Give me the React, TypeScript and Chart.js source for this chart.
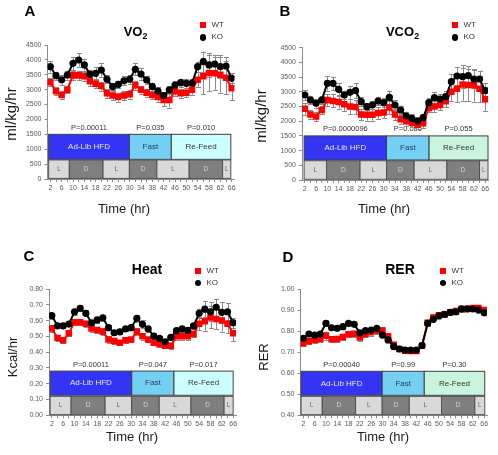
import React, { useEffect, useRef } from "react";
import { Chart, registerables } from "chart.js";

Chart.register(...registerables);

const FONT = "'Liberation Sans', Arial, sans-serif";

// Sampling times (hr)
const HOURS = [2, 4, 6, 8, 10, 12, 14, 16, 18, 20, 22, 24, 26, 28, 30, 32, 34, 36, 38, 40, 42, 44, 46, 48, 50, 52, 54, 56, 58, 60, 62, 64, 66];
const HOUR_LABELS = [2, 6, 10, 14, 18, 22, 26, 30, 34, 38, 42, 46, 50, 54, 58, 62, 66];

const PHASE_LABELS = ["Ad-Lib HFD", "Fast", "Re-Feed"];
const CYCLE_LABELS = ["L", "D", "L", "D", "L", "D", "L"];
const SERIES_NAMES = ["WT", "KO"];

// VO2 (ml/kg/hr)
const VO2_WT = [3250, 2950, 2820, 3000, 3480, 3480, 3450, 3280, 3200, 3120, 2880, 2800, 2750, 2800, 2850, 3150, 3000, 2900, 2820, 2750, 2650, 2650, 2950, 2880, 2900, 3000, 3330, 3450, 3560, 3550, 3500, 3400, 3050];
const VO2_KO = [3771, 3470, 3330, 3490, 3885, 3996, 3830, 3515, 3550, 3660, 3350, 3100, 3180, 3300, 3350, 3683, 3526, 3325, 3100, 2955, 2800, 2990, 3157, 3234, 3213, 3220, 3771, 3939, 3830, 3862, 3771, 3794, 3381];
const VO2_WT_ERR = [130, 130, 120, 120, 150, 150, 150, 150, 150, 150, 150, 150, 150, 150, 150, 150, 130, 130, 150, 150, 200, 250, 150, 150, 150, 170, 250, 600, 600, 550, 600, 550, 400];
const VO2_KO_ERR = [200, 135, 170, 150, 220, 220, 190, 150, 220, 220, 130, 120, 120, 150, 150, 200, 190, 150, 140, 120, 110, 120, 130, 140, 150, 150, 170, 335, 390, 300, 390, 310, 170];
const VO2_P = ["P=0.00011", "P=0.035", "P=0.010"];
const VO2_PHASE_EDGES = [1.4, 29.9, 44.7, 65.7];
const VO2_CYCLE_EDGES = [1.4, 8.7, 20.6, 29.9, 39.6, 51, 62.8, 65.7];
const VO2_PHASE_BAND = [660, 1500];
const VO2_CYCLE_BAND = [20, 640];

// VCO2 (ml/kg/hr)
const VCO2_WT = [2420, 2230, 2160, 2380, 2720, 2690, 2650, 2580, 2500, 2480, 2230, 2220, 2220, 2280, 2300, 2470, 2230, 2070, 2000, 1950, 1880, 1930, 2450, 2500, 2550, 2680, 3000, 3100, 3250, 3230, 3220, 3100, 2750];
const VCO2_KO = [2891, 2721, 2608, 2721, 3289, 3289, 3084, 2891, 2982, 3039, 2664, 2493, 2551, 2687, 2630, 2812, 2551, 2381, 2177, 2098, 2007, 2120, 2630, 2800, 2755, 2834, 3344, 3537, 3514, 3548, 3435, 3435, 3039];
const VCO2_WT_ERR = [200, 150, 150, 150, 200, 220, 220, 250, 250, 250, 200, 200, 200, 200, 200, 220, 180, 150, 150, 150, 150, 150, 150, 180, 180, 200, 300, 450, 550, 550, 550, 450, 400];
const VCO2_KO_ERR = [170, 150, 150, 150, 250, 226, 200, 150, 215, 250, 150, 120, 120, 150, 150, 226, 180, 150, 150, 130, 120, 120, 150, 180, 180, 180, 250, 300, 400, 330, 300, 280, 250];
const VCO2_P = ["P=0.0000096", "P=0.086", "P=0.055"];
const VCO2_PHASE_EDGES = [1.75, 31, 46.1, 67];
const VCO2_CYCLE_EDGES = [1.75, 9.7, 21.6, 31, 40.8, 52.4, 64, 67];
const VCO2_PHASE_BAND = [680, 1500];
const VCO2_CYCLE_BAND = [25, 655];

// Heat (Kcal/hr)
const HEAT_WT = [0.55, 0.49, 0.475, 0.52, 0.59, 0.59, 0.58, 0.55, 0.54, 0.53, 0.48, 0.47, 0.46, 0.475, 0.48, 0.53, 0.50, 0.48, 0.46, 0.45, 0.44, 0.44, 0.50, 0.50, 0.50, 0.515, 0.58, 0.595, 0.62, 0.61, 0.60, 0.58, 0.52];
const HEAT_KO = [0.631, 0.567, 0.567, 0.578, 0.656, 0.678, 0.646, 0.586, 0.604, 0.618, 0.555, 0.523, 0.529, 0.547, 0.555, 0.614, 0.576, 0.547, 0.502, 0.488, 0.466, 0.494, 0.536, 0.547, 0.538, 0.566, 0.646, 0.673, 0.656, 0.684, 0.652, 0.656, 0.586];
const HEAT_WT_ERR = [0.02, 0.02, 0.015, 0.015, 0.02, 0.02, 0.02, 0.02, 0.02, 0.02, 0.02, 0.02, 0.015, 0.015, 0.015, 0.02, 0.02, 0.015, 0.015, 0.015, 0.015, 0.02, 0.02, 0.02, 0.02, 0.02, 0.04, 0.06, 0.07, 0.065, 0.07, 0.06, 0.05];
const HEAT_KO_ERR = [0.02, 0.015, 0.015, 0.015, 0.02, 0.02, 0.02, 0.015, 0.02, 0.02, 0.015, 0.015, 0.015, 0.015, 0.015, 0.02, 0.025, 0.02, 0.02, 0.015, 0.015, 0.015, 0.02, 0.02, 0.02, 0.02, 0.03, 0.05, 0.06, 0.055, 0.065, 0.055, 0.03];
const HEAT_P = ["P=0.00011", "P=0.047", "P=0.017"];
const HEAT_PHASE_EDGES = [1.4, 30.2, 45.1, 66];
const HEAT_CYCLE_EDGES = [1.4, 8.8, 20.8, 30.2, 39.9, 51.1, 62.8, 66];
const HEAT_PHASE_BAND = [0.127, 0.28];
const HEAT_CYCLE_BAND = [0.004, 0.12];

// RER
const RER_WT = [0.742, 0.752, 0.758, 0.763, 0.778, 0.761, 0.763, 0.772, 0.785, 0.787, 0.77, 0.785, 0.794, 0.802, 0.803, 0.775, 0.735, 0.715, 0.707, 0.705, 0.705, 0.73, 0.84, 0.865, 0.875, 0.88, 0.89, 0.895, 0.905, 0.905, 0.91, 0.91, 0.9];
const RER_KO = [0.766, 0.786, 0.781, 0.786, 0.837, 0.816, 0.813, 0.821, 0.837, 0.832, 0.792, 0.802, 0.805, 0.813, 0.781, 0.758, 0.726, 0.715, 0.71, 0.71, 0.71, 0.731, 0.837, 0.856, 0.872, 0.88, 0.889, 0.892, 0.906, 0.906, 0.905, 0.9, 0.887];
const RER_WT_ERR = [0.015, 0.015, 0.015, 0.015, 0.02, 0.015, 0.015, 0.015, 0.015, 0.015, 0.015, 0.015, 0.015, 0.015, 0.015, 0.015, 0.015, 0.01, 0.01, 0.01, 0.01, 0.01, 0.015, 0.015, 0.015, 0.015, 0.015, 0.015, 0.015, 0.01, 0.01, 0.01, 0.01];
const RER_KO_ERR = [0.01, 0.01, 0.01, 0.01, 0.015, 0.01, 0.01, 0.01, 0.01, 0.01, 0.01, 0.01, 0.01, 0.01, 0.01, 0.01, 0.01, 0.01, 0.005, 0.005, 0.005, 0.01, 0.01, 0.01, 0.01, 0.01, 0.01, 0.01, 0.01, 0.01, 0.01, 0.01, 0.01];
const RER_P = ["P=0.00040", "P=0.99", "P=0.30"];
const RER_PHASE_EDGES = [1.2, 29.9, 44.8, 66.2];
const RER_CYCLE_EDGES = [1.2, 8.7, 20.5, 29.9, 39.5, 50.9, 62.7, 66.2];
const RER_PHASE_BAND = [0.495, 0.609];
const RER_CYCLE_BAND = [0.403, 0.49];

const COLORS = {
  wt: "#ff0000",
  ko: "#000000",
  err: "#8a8a8a",
  axis: "#8c8c8c",
  tick: "#595959",
  adLib: "#3434f4",
  fast: "#74cff4",
  refeedCyan: "#ccffff",
  refeedMint: "#c9f5df",
  light: "#d9d9d9",
  dark: "#7f7f7f",
  boxEdge: "#3f3f3f",
};

type Spec = {
  wt: number[];
  ko: number[];
  wtErr: number[];
  koErr: number[];
  yMin: number;
  yMax: number;
  yStep: number;
  decimals: number;
  pValues: string[];
  phaseEdges: number[];
  cycleEdges: number[];
  phaseBand: number[];
  cycleBand: number[];
  refeedColor: string;
  box: { x: number; y: number; w: number; h: number; yAxisW: number; top: number; right: number; bottom: number };
};

function protocolPlugin(spec: Spec) {
  return {
    id: "protocol",
    beforeDatasetsDraw(chart: any) {
      const { ctx } = chart;
      const xs = chart.scales.x;
      const ys = chart.scales.y;
      ctx.save();

      // feeding protocol boxes
      const pTop = ys.getPixelForValue(spec.phaseBand[1]);
      const pBot = ys.getPixelForValue(spec.phaseBand[0]);
      const phaseFill = [COLORS.adLib, COLORS.fast, spec.refeedColor];
      const phaseText = ["#e8e8ff", "#2a3a55", "#333333"];
      for (let i = 0; i < PHASE_LABELS.length; i++) {
        const x0 = xs.getPixelForValue(spec.phaseEdges[i]);
        const x1 = xs.getPixelForValue(spec.phaseEdges[i + 1]);
        ctx.fillStyle = phaseFill[i];
        ctx.fillRect(x0, pTop, x1 - x0, pBot - pTop);
        ctx.strokeStyle = COLORS.boxEdge;
        ctx.lineWidth = 1;
        ctx.strokeRect(x0, pTop, x1 - x0, pBot - pTop);
        ctx.textAlign = "center";
        ctx.textBaseline = "middle";
        ctx.fillStyle = phaseText[i];
        ctx.font = `8px ${FONT}`;
        ctx.fillText(PHASE_LABELS[i], (x0 + x1) / 2, (pTop + pBot) / 2);
        ctx.fillStyle = "#333333";
        ctx.font = `7.5px ${FONT}`;
        ctx.fillText(spec.pValues[i], (x0 + x1) / 2, pTop - 6.5);
      }

      // light / dark cycle boxes
      const cTop = ys.getPixelForValue(spec.cycleBand[1]);
      const cBot = ys.getPixelForValue(spec.cycleBand[0]);
      for (let i = 0; i < CYCLE_LABELS.length; i++) {
        const x0 = xs.getPixelForValue(spec.cycleEdges[i]);
        const x1 = xs.getPixelForValue(spec.cycleEdges[i + 1]);
        const isLight = CYCLE_LABELS[i] === "L";
        ctx.fillStyle = isLight ? COLORS.light : COLORS.dark;
        ctx.fillRect(x0, cTop, x1 - x0, cBot - cTop);
        ctx.strokeStyle = "#505050";
        ctx.lineWidth = 1;
        ctx.strokeRect(x0, cTop, x1 - x0, cBot - cTop);
        ctx.fillStyle = isLight ? "#666666" : "#d4d4d4";
        ctx.font = `6.5px ${FONT}`;
        ctx.textAlign = "center";
        ctx.textBaseline = "middle";
        ctx.fillText(CYCLE_LABELS[i], (x0 + x1) / 2, (cTop + cBot) / 2);
      }

      // error bars
      const sets = [
        { vals: spec.wt, errs: spec.wtErr },
        { vals: spec.ko, errs: spec.koErr },
      ];
      ctx.strokeStyle = COLORS.err;
      ctx.lineWidth = 1;
      for (const s of sets) {
        for (let j = 0; j < HOURS.length; j++) {
          const px = Math.round(xs.getPixelForValue(HOURS[j])) + 0.5;
          const hi = ys.getPixelForValue(s.vals[j] + s.errs[j]);
          const lo = ys.getPixelForValue(s.vals[j] - s.errs[j]);
          ctx.beginPath();
          ctx.moveTo(px, hi);
          ctx.lineTo(px, lo);
          ctx.moveTo(px - 2.5, Math.round(hi) + 0.5);
          ctx.lineTo(px + 2.5, Math.round(hi) + 0.5);
          ctx.moveTo(px - 2.5, Math.round(lo) + 0.5);
          ctx.lineTo(px + 2.5, Math.round(lo) + 0.5);
          ctx.stroke();
        }
      }
      ctx.restore();
    },
  };
}

function Panel({ spec }: { spec: Spec }) {
  const ref = useRef<HTMLCanvasElement>(null);
  useEffect(() => {
    const b = spec.box;
    const chart = new Chart(ref.current as HTMLCanvasElement, {
      type: "line",
      data: {
        datasets: [
          {
            label: SERIES_NAMES[0],
            data: HOURS.map((h, i) => ({ x: h, y: spec.wt[i] })),
            borderColor: COLORS.wt,
            backgroundColor: COLORS.wt,
            borderWidth: 2,
            pointStyle: "rect",
            pointRadius: 4.6,
            pointBorderWidth: 0,
            tension: 0,
            order: 2,
          },
          {
            label: SERIES_NAMES[1],
            data: HOURS.map((h, i) => ({ x: h, y: spec.ko[i] })),
            borderColor: COLORS.ko,
            backgroundColor: COLORS.ko,
            borderWidth: 2,
            pointStyle: "circle",
            pointRadius: 3.6,
            pointBorderWidth: 0,
            tension: 0,
            order: 1,
          },
        ],
      },
      options: {
        animation: false,
        responsive: false,
        devicePixelRatio: 1,
        layout: { padding: { left: 0, top: b.top, right: b.right, bottom: b.bottom } },
        plugins: { legend: { display: false }, tooltip: { enabled: false }, title: { display: false } },
        scales: {
          x: {
            type: "linear",
            min: 1,
            max: 67,
            afterBuildTicks: (s: any) => {
              s.ticks = HOURS.map((v) => ({ value: v }));
            },
            afterFit: (s: any) => {
              s.height = 20;
            },
            ticks: {
              autoSkip: false,
              maxRotation: 0,
              minRotation: 0,
              padding: 2,
              color: COLORS.tick,
              font: { size: 7, family: FONT },
              callback: (v: any) => (HOUR_LABELS.includes(Number(v)) ? String(v) : ""),
            },
            grid: { drawOnChartArea: false, tickLength: 3, color: COLORS.axis },
            border: { color: COLORS.axis },
          },
          y: {
            type: "linear",
            min: spec.yMin,
            max: spec.yMax,
            afterFit: (s: any) => {
              s.width = b.yAxisW;
            },
            ticks: {
              stepSize: spec.yStep,
              autoSkip: false,
              padding: 3,
              color: COLORS.tick,
              font: { size: 7, family: FONT },
              callback: (v: any) => Number(v).toFixed(spec.decimals),
            },
            grid: { drawOnChartArea: false, tickLength: 3, color: COLORS.axis },
            border: { color: COLORS.axis },
          },
        },
      },
      plugins: [protocolPlugin(spec)],
    } as any);
    return () => chart.destroy();
  }, [spec]);
  const b = spec.box;
  return (
    <canvas
      ref={ref}
      width={b.w}
      height={b.h}
      style={{ position: "absolute", left: b.x, top: b.y, width: b.w, height: b.h }}
    />
  );
}

function Txt(props: {
  x: number;
  y: number;
  size: number;
  bold?: boolean;
  rotate?: boolean;
  left?: boolean;
  color?: string;
  children: React.ReactNode;
}) {
  const tx = props.left ? "0" : "-50%";
  return (
    <div
      style={{
        position: "absolute",
        left: props.x,
        top: props.y,
        transform: `translate(${tx},-50%)${props.rotate ? " rotate(-90deg)" : ""}`,
        fontFamily: FONT,
        fontSize: props.size,
        fontWeight: props.bold ? 700 : 400,
        lineHeight: 1,
        whiteSpace: "nowrap",
        color: props.color || "#1a1a1a",
      }}
    >
      {props.children}
    </div>
  );
}

function Legend({ x, y }: { x: number; y: number }) {
  return (
    <>
      <div style={{ position: "absolute", left: x - 3, top: y - 3, width: 6, height: 6, background: COLORS.wt }} />
      <Txt x={x + 9} y={y} size={8} left color="#333">{SERIES_NAMES[0]}</Txt>
      <div style={{ position: "absolute", left: x - 3, top: y + 12 - 3, width: 6.5, height: 6.5, borderRadius: "50%", background: COLORS.ko }} />
      <Txt x={x + 9} y={y + 12} size={8} left color="#333">{SERIES_NAMES[1]}</Txt>
    </>
  );
}

const Sub = ({ children }: { children: React.ReactNode }) => (
  <span style={{ fontSize: "0.68em", position: "relative", top: "0.3em" }}>{children}</span>
);

const SPEC_VO2: Spec = {
  wt: VO2_WT, ko: VO2_KO, wtErr: VO2_WT_ERR, koErr: VO2_KO_ERR,
  yMin: 0, yMax: 4500, yStep: 500, decimals: 0,
  pValues: VO2_P, phaseEdges: VO2_PHASE_EDGES, cycleEdges: VO2_CYCLE_EDGES,
  phaseBand: VO2_PHASE_BAND, cycleBand: VO2_CYCLE_BAND, refeedColor: COLORS.refeedCyan,
  box: { x: 0, y: 0, w: 249, h: 228, yAxisW: 47.5, top: 45, right: 14.5, bottom: 29 },
};
const SPEC_VCO2: Spec = {
  wt: VCO2_WT, ko: VCO2_KO, wtErr: VCO2_WT_ERR, koErr: VCO2_KO_ERR,
  yMin: 0, yMax: 4500, yStep: 500, decimals: 0,
  pValues: VCO2_P, phaseEdges: VCO2_PHASE_EDGES, cycleEdges: VCO2_CYCLE_EDGES,
  phaseBand: VCO2_PHASE_BAND, cycleBand: VCO2_CYCLE_BAND, refeedColor: COLORS.refeedMint,
  box: { x: 249, y: 0, w: 249, h: 228, yAxisW: 53, top: 47.7, right: 10, bottom: 28 },
};
const SPEC_HEAT: Spec = {
  wt: HEAT_WT, ko: HEAT_KO, wtErr: HEAT_WT_ERR, koErr: HEAT_KO_ERR,
  yMin: 0, yMax: 0.8, yStep: 0.1, decimals: 2,
  pValues: HEAT_P, phaseEdges: HEAT_PHASE_EDGES, cycleEdges: HEAT_CYCLE_EDGES,
  phaseBand: HEAT_PHASE_BAND, cycleBand: HEAT_CYCLE_BAND, refeedColor: COLORS.refeedCyan,
  box: { x: 0, y: 228, w: 249, h: 227, yAxisW: 49, top: 61, right: 13, bottom: 19.7 },
};
const SPEC_RER: Spec = {
  wt: RER_WT, ko: RER_KO, wtErr: RER_WT_ERR, koErr: RER_KO_ERR,
  yMin: 0.4, yMax: 1.0, yStep: 0.1, decimals: 2,
  pValues: RER_P, phaseEdges: RER_PHASE_EDGES, cycleEdges: RER_CYCLE_EDGES,
  phaseBand: RER_PHASE_BAND, cycleBand: RER_CYCLE_BAND, refeedColor: COLORS.refeedMint,
  box: { x: 249, y: 228, w: 249, h: 227, yAxisW: 51.5, top: 61, right: 11, bottom: 19.7 },
};

export default function App() {
  return (
    <div style={{ position: "fixed", left: 0, top: 0, width: 498, height: 455, background: "#ffffff", overflow: "hidden" }}>
      <Panel spec={SPEC_VO2} />
      <Panel spec={SPEC_VCO2} />
      <Panel spec={SPEC_HEAT} />
      <Panel spec={SPEC_RER} />

      {/* panel letters */}
      <Txt x={30} y={10} size={15} bold color="#000">A</Txt>
      <Txt x={285} y={10} size={15} bold color="#000">B</Txt>
      <Txt x={29} y={255} size={15} bold color="#000">C</Txt>
      <Txt x={288} y={256} size={15} bold color="#000">D</Txt>

      {/* titles */}
      <Txt x={135.5} y={31} size={13} bold color="#000">VO<Sub>2</Sub></Txt>
      <Txt x={402.5} y={31} size={13} bold color="#000">VCO<Sub>2</Sub></Txt>
      <Txt x={147} y={269} size={14} bold color="#000">Heat</Txt>
      <Txt x={400} y={269} size={14} bold color="#000">RER</Txt>

      {/* legends */}
      <Legend x={202.5} y={25} />
      <Legend x={454.5} y={25} />
      <Legend x={197.5} y={270.5} />
      <Legend x={442.5} y={270.5} />

      {/* axis titles */}
      <Txt x={10} y={114} size={15} rotate>ml/kg/hr</Txt>
      <Txt x={260} y={116} size={15} rotate>ml/kg/hr</Txt>
      <Txt x={12} y={357} size={13} rotate>Kcal/hr</Txt>
      <Txt x={263} y={357} size={13} rotate>RER</Txt>
      <Txt x={124} y={208} size={13}>Time (hr)</Txt>
      <Txt x={384} y={208} size={13}>Time (hr)</Txt>
      <Txt x={132} y={436} size={13}>Time (hr)</Txt>
      <Txt x={383} y={436} size={13}>Time (hr)</Txt>
    </div>
  );
}
